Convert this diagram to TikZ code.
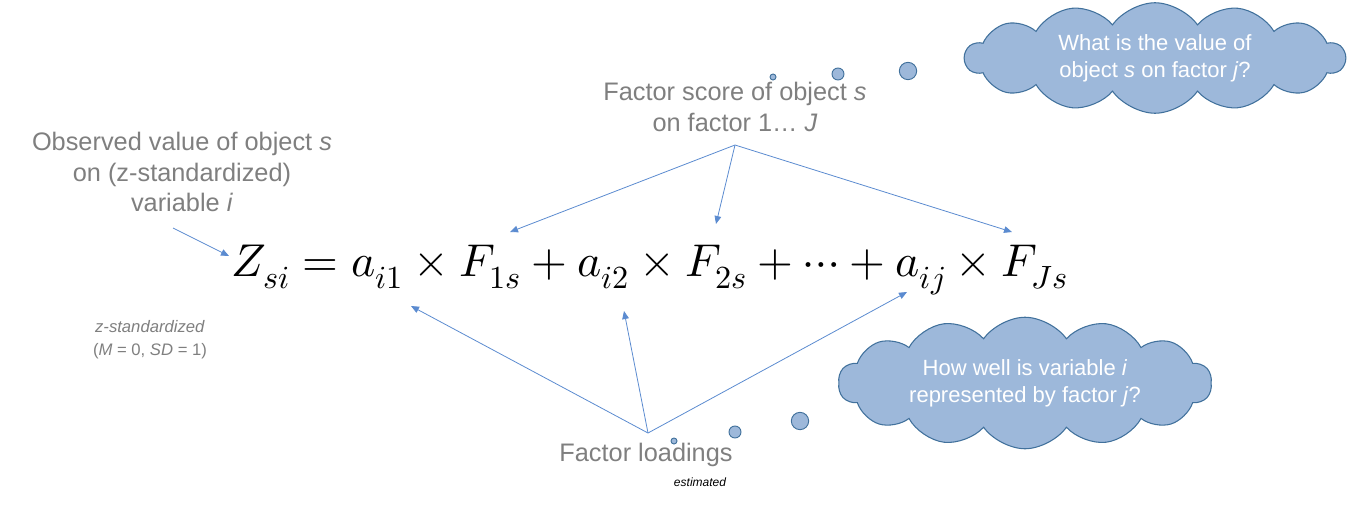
\documentclass[tikz,border=0pt]{standalone}
\usepackage{fontspec}
\usepackage{unicode-math}
\setmainfont{Liberation Sans}
\setmathfont{Latin Modern Math}
\usetikzlibrary{shapes.symbols,arrows.meta}
\definecolor{gtxt}{HTML}{7F7F7F}
\definecolor{arr}{HTML}{5B8BD0}
\definecolor{cfill}{HTML}{9DB8DA}
\definecolor{cline}{HTML}{41719C}
\tikzset{
  lbl/.style={text=gtxt,font=\fontsize{19}{23}\selectfont,align=center,inner sep=0},
  con/.style={draw=arr,line width=0.6pt,-{Triangle[length=6pt,width=5pt]}},
  thought/.style={cloud,cloud puffs=14,cloud puff arc=110,aspect=3.6,draw=cline,fill=cfill,line width=0.8pt,text=white,font=\fontsize{16.5}{20}\selectfont,align=center},
  dot/.style={circle,draw=cline,fill=cfill,line width=0.7pt,inner sep=0}
}
\begin{document}
\begin{tikzpicture}[x=0.75pt,y=-0.75pt]
\useasboundingbox (0,0) rectangle (1349,511);
\node (eq) at (650,270) {\fontsize{34.5}{40}\selectfont $Z_{si}=a_{i1}\times F_{1s}+a_{i2}\times F_{2s}+\cdots+a_{ij}\times F_{Js}$};
\node[lbl] (obs) at (182,172) {Observed value of object \textit{s}\\on (z-standardized)\\variable \textit{i}};
\node[lbl] (fs) at (735,107) {Factor score of object \textit{s}\\on factor 1\dots\ \textit{J}};
\node[lbl] (fl) at (646,455) {Factor loadings};
\node[font=\fontsize{9}{10}\selectfont\itshape] (est) at (700,482) {estimated};
\node[lbl,font=\fontsize{12.5}{17}\selectfont] (zs) at (150,340) {\textit{z-standardized}\\(\textit{M} = 0, \textit{SD} = 1)};
\coordinate (fsa) at (735,145);
\coordinate (fla) at (648,433);
\coordinate (t1) at (510,232); \coordinate (t2) at (716,224); \coordinate (t3) at (1012,232);
\coordinate (o1) at (173,228); \coordinate (o2) at (229,256);
\coordinate (b1) at (411,306); \coordinate (b2) at (624,311); \coordinate (b3) at (907,292);
\draw[con] (fsa) -- (t1); \draw[con] (fsa) -- (t2); \draw[con] (fsa) -- (t3);
\draw[con] (o1) -- (o2);
\draw[con] (fla) -- (b1); \draw[con] (fla) -- (b2); \draw[con] (fla) -- (b3);
\node[thought,minimum width=285pt,minimum height=80pt] (c1) at (1155,58) {What is the value of\\object \textit{s} on factor \textit{j}?};
\node[thought,minimum width=280pt,minimum height=80pt] (c2) at (1025,383) {How well is variable \textit{i}\\represented by factor \textit{j}?};
\node[dot,minimum size=4.5pt] (d1) at (773,77) {};
\node[dot,minimum size=9pt] (d2) at (838,74) {};
\node[dot,minimum size=13pt] (d3) at (908,71) {};
\node[dot,minimum size=4.5pt] (e1) at (674,441) {};
\node[dot,minimum size=9pt] (e2) at (735,432) {};
\node[dot,minimum size=13pt] (e3) at (800,421) {};
\end{tikzpicture}
\end{document}
